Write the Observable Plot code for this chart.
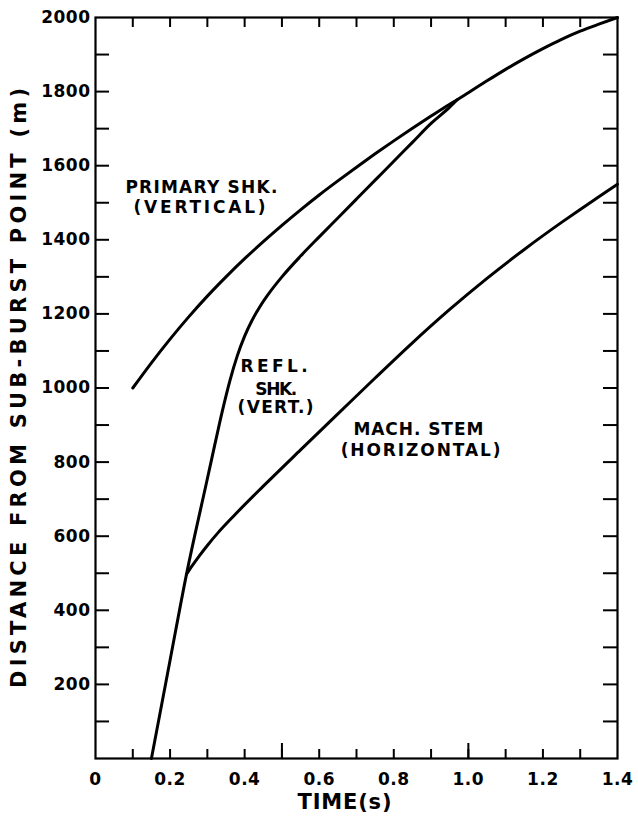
<!DOCTYPE html>
<html><head><meta charset="utf-8">
<script src="https://cdn.jsdelivr.net/npm/d3@7"></script>
<script src="https://cdn.jsdelivr.net/npm/@observablehq/plot@0.6"></script>
<style>
html,body{margin:0;padding:0;background:#fff;}
#chart svg{display:block;}
#chart svg text{letter-spacing:0.5px;}
</style></head><body><div id="chart"></div>
<script>
// ---- data ----
const primaryT = [0.10,0.15,0.20,0.25,0.30,0.35,0.40,0.45,0.50,0.55,0.60,0.65,0.70,0.75,0.80,0.85,0.90,0.95,0.97,1.00,1.05,1.10,1.15,1.20,1.25,1.30,1.35,1.40];
const primaryD = [1000,1068,1132,1192,1248,1300,1349,1395,1439,1481,1521,1559,1596,1632,1667,1701,1734,1766,1778,1797,1829,1860,1889,1916,1941,1963,1982,2000];

const reflT = [0.15,0.20,0.244,0.30,0.32,0.34,0.36,0.38,0.40,0.42,0.44,0.47,0.50,0.55,0.60,0.65,0.70,0.75,0.80,0.85,0.90,0.95,0.97];
const reflD = [0,265,497,755,847,937,1018,1086,1140,1183,1218,1262,1300,1356,1408,1459,1510,1561,1612,1663,1714,1758,1778];

const machT = [0.244,0.26,0.28,0.30,0.33,0.37,0.45,0.55,0.65,0.75,0.85,0.95,1.05,1.15,1.25,1.30,1.35,1.40];
const machD = [497,521,549,575,611,654,735,833,930,1027,1122,1212,1296,1374,1447,1482,1516,1550];

const xTickValues = [0,0.2,0.4,0.6,0.8,1.0,1.2,1.4];
const xTickLabels = ["0","0.2","0.4","0.6","0.8","1.0","1.2","1.4"];
const xMinorTicks = [0.1,0.2,0.3,0.4,0.5,0.6,0.7,0.8,0.9,1.0,1.1,1.2,1.3];
const xLongTicks = [0.5,1.0];
const yTickValues = [200,400,600,800,1000,1200,1400,1600,1800,2000];
const yTickLabels = ["200","400","600","800","1000","1200","1400","1600","1800","2000"];
const yMinorTicks = [100,200,300,400,500,600,700,800,900,1000,1100,1200,1300,1400,1500,1600,1700,1800,1900];

const labelText = ["PRIMARY SHK.","(VERTICAL)","REFL.","SHK.","(VERT.)","MACH. STEM","(HORIZONTAL)"];
const labelT = [0.284,0.279,0.479,0.485,0.483,0.866,0.872];
const labelD = [1542,1487,1057,997,947,887,831];

const xTitle = "TIME(s)";
const yTitle = "DISTANCE FROM SUB-BURST POINT (m)";

// ---- layout ----
const W = 638, H = 822;
const mL = 95, mR = 21, mT = 17, mB = 64;
const frameW = W - mL - mR, frameH = H - mT - mB;

const curves = [
  ...primaryT.map((t, i) => ({series: "primary", t, d: primaryD[i]})),
  ...reflT.map((t, i) => ({series: "refl", t, d: reflD[i]})),
  ...machT.map((t, i) => ({series: "mach", t, d: machD[i]}))
];
const labels = labelText.map((s, i) => ({s, t: labelT[i], d: labelD[i]}));

const plot = Plot.plot({
  width: W, height: H,
  marginLeft: mL, marginRight: mR, marginTop: mT, marginBottom: mB,
  x: {domain: [0, 1.4], axis: null},
  y: {domain: [0, 2000], axis: null},
  style: {fontFamily: "DejaVu Sans", color: "#000", background: "#fff"},
  marks: [
    // inward ticks on all four sides
    Plot.tickX(xMinorTicks, {x: d => d, insetTop: frameH - 9, strokeWidth: 2}),
    Plot.tickX(xLongTicks, {x: d => d, insetTop: frameH - 15, strokeWidth: 2}),
    Plot.tickX(xMinorTicks, {x: d => d, insetBottom: frameH - 10, strokeWidth: 2}),
    Plot.tickY(yMinorTicks, {y: d => d, insetRight: frameW - 14, strokeWidth: 2}),
    Plot.tickY(yMinorTicks, {y: d => d, insetLeft: frameW - 14, strokeWidth: 2}),
    Plot.frame({strokeWidth: 2.2}),
    // curves
    Plot.line(curves, {x: "t", y: "d", z: "series", curve: "monotone-x", stroke: "#000", strokeWidth: 3}),
    // tick labels
    Plot.text(xTickValues, {x: d => d, text: (d, i) => xTickLabels[i], frameAnchor: "bottom", lineAnchor: "top", dy: 14, fontSize: 17, fontWeight: "bold"}),
    Plot.text(yTickValues, {y: d => d, text: (d, i) => yTickLabels[i], frameAnchor: "left", textAnchor: "end", dx: -5, fontSize: 17, fontWeight: "bold"}),
    // annotations
    Plot.text(labels, {x: "t", y: "d", text: "s", fontSize: 17, fontWeight: "bold"}),
    // axis titles
    Plot.text([xTitle], {frameAnchor: "bottom", textAnchor: "middle", dx: -12, dy: 50, fontSize: 21, fontWeight: "bold"}),
    Plot.text([yTitle], {frameAnchor: "left", textAnchor: "middle", rotate: -90, dx: -76, fontSize: 21, fontWeight: "bold"})
  ]
});

const lengths = {"PRIMARY SHK.": 152, "(VERTICAL)": 132, "REFL.": 67, "SHK.": 42, "(VERT.)": 76,
  "MACH. STEM": 130, "(HORIZONTAL)": 160, "TIME(s)": 94, "DISTANCE FROM SUB-BURST POINT (m)": 600};
d3.select(plot).selectAll("text").each(function () {
  const L = lengths[this.textContent];
  if (L) {
    this.style.letterSpacing = "0px";
    this.setAttribute("textLength", L);
    this.setAttribute("lengthAdjust", "spacing");
  }
});
document.getElementById("chart").appendChild(plot);
</script></body></html>
